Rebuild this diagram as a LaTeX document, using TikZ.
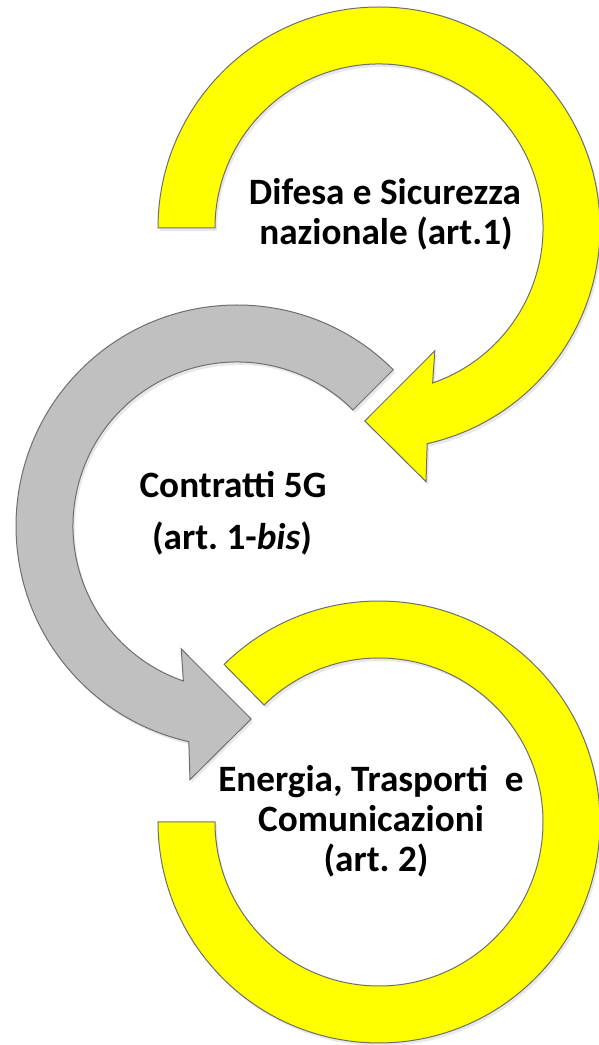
\documentclass[tikz,border=0pt]{standalone}
\usepackage{fontspec}
\setmainfont{Carlito}
\usetikzlibrary{shadows}
\definecolor{ringyellow}{HTML}{FFFF00}
\definecolor{ringgrey}{HTML}{C0C0C0}
\definecolor{ringline}{HTML}{6E6E6E}
\tikzset{
  ring/.style={draw=ringline, line width=0.5pt, line join=miter,
    drop shadow={shadow xshift=1pt, shadow yshift=-1.5pt, opacity=0.18}},
  yring/.style={ring, fill=ringyellow},
  gring/.style={ring, fill=ringgrey},
  label/.style={anchor=base, inner sep=0pt, font=\fontsize{18.6pt}{22pt}\selectfont\bfseries}
}
\frenchspacing
\begin{document}
\begin{tikzpicture}[x=0.5pt,y=0.5pt]
\useasboundingbox (0,0) rectangle (599,1045);
\coordinate (T) at (379,817);
\coordinate (G) at (237,519);
\coordinate (B) at (379,223);
% top yellow arrow
\draw[yring] ([shift={(180:221)}]T) arc[start angle=180, end angle=-77.4, radius=221]
  -- ([shift={(-79.5:258)}]T) -- ([shift={(-94.2:193.5)}]T) -- ([shift={(-65.6:135)}]T)
  -- ([shift={(-70.9:164)}]T) arc[start angle=-70.9, end angle=180, radius=164] -- cycle;
% grey arrow
\draw[gring] ([shift={(45:221)}]G) arc[start angle=45, end angle=257.4, radius=221]
  -- ([shift={(259.5:258)}]G) -- ([shift={(274.2:193.5)}]G) -- ([shift={(245.6:135)}]G)
  -- ([shift={(250.9:164)}]G) arc[start angle=250.9, end angle=45, radius=164] -- cycle;
% bottom yellow ring
\draw[yring] ([shift={(134.5:221)}]B) arc[start angle=134.5, end angle=-180, radius=221]
  -- ([shift={(-180:164)}]B) arc[start angle=-180, end angle=134.5, radius=164] -- cycle;
% labels
\node[label] (t1) at (385,840) {Difesa e Sicurezza};
\node[label] (t2) at (386,800) {nazionale (art.1)};
\node[label] (g1) at (233,547) {Contratti 5G};
\node[label] (g2) at (232,495) {(art. 1-\textit{bis})};
\node[label] (b1) at (371,253) {Energia, Trasporti\ \ e};
\node[label] (b2) at (371,213) {Comunicazioni};
\node[label] (b3) at (376,173) {(art. 2)};
\end{tikzpicture}
\end{document}
